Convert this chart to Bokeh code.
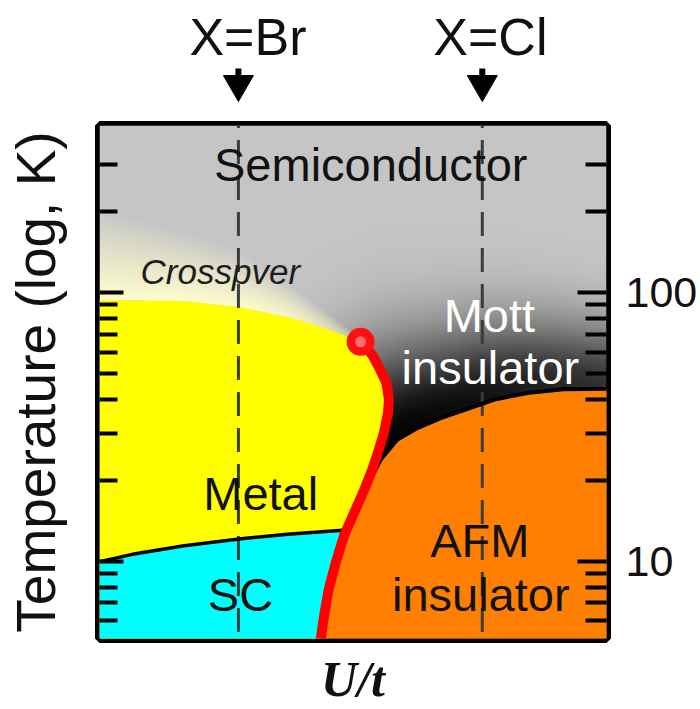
import numpy as np
from bokeh.plotting import figure
from bokeh.layouts import column
from bokeh.models import LogAxis, LinearAxis, FixedTicker, PrintfTickFormatter
from bokeh.core.properties import value
from bokeh.embed import file_html
from bokeh.resources import INLINE

# ---- phase boundaries: U/t in arbitrary units, temperature in K ----
# first-order Mott transition, from the critical end point downwards
mott_U = [5.15, 5.38, 5.54, 5.66, 5.71, 5.69, 5.61, 5.51, 5.38, 5.21, 5.02, 4.82, 4.66, 4.52, 4.44, 4.37, 4.35]
mott_T = [65.6, 58.6, 51.5, 46.0, 39.9, 35.6, 30.0, 26.0, 21.9, 18.2, 15.1, 12.4, 9.85, 7.84, 6.42, 5.25, 4.77]
# superconducting transition of the metal
sc_U = [0.0, 0.65, 1.67, 2.75, 3.71, 4.73, 4.87]
sc_T = [9.96, 10.6, 11.4, 12.1, 12.6, 13.0, 13.05]
# Neel temperature of the antiferromagnetic insulator
afm_U = [5.21, 5.28, 5.54, 5.87, 6.27, 6.73, 7.12, 7.79, 8.47, 9.15, 10.0, 10.2]
afm_T = [18.2, 19.0, 23.8, 28.3, 31.3, 34.1, 36.1, 40.0, 42.4, 43.7, 43.9, 44.0]
# upper edge of the coherent metal and of the crossover band above it
metal_U = [0.0, 1.66, 2.76, 3.71, 4.38, 4.99, 5.15]
metal_T = [93.8, 93.0, 88.3, 81.1, 74.4, 67.7, 65.6]
cross_U = [0.0, 1.66, 2.76, 3.71, 4.38, 4.99, 5.15]
cross_T = [206.0, 169.0, 143.0, 109.0, 88.3, 71.9, 65.6]
# critical end point
cep_U, cep_T = 5.15, 65.6

# the two salts kappa-(BEDT-TTF)2Cu[N(CN)2]X
salts = ["X=Br", "X=Cl"]
salt_U = [2.74, 7.55]

# temperature ticks
major_T = [10, 100]
minor_T = [6, 7, 8, 9, 20, 30, 40, 50, 60, 70, 80, 90, 200, 300]

# region names
region_text = ["Semiconductor", "Mott", "insulator", "Metal", "SC", "AFM", "insulator"]
region_U = [5.35, 7.69, 7.71, 3.18, 2.78, 7.50, 7.52]
region_T = [260.0, 71.3, 45.7, 15.5, 6.49, 10.3, 6.49]
region_color = ["#111111", "white", "white", "#111111", "#111111", "#111111", "#111111"]

# ---- geometry ----
W = 700
TOP_H = 115                      # strip above the diagram with the salt markers
MAIN_H = 594
B_LEFT, B_RIGHT, B_TOP, B_BOTTOM = 99, 94, 10, 70
U_MIN, U_MAX = 0.0, 10.0
T_MIN, T_MAX = 5.15, 419.4
FW, FH = W - B_LEFT - B_RIGHT, MAIN_H - B_TOP - B_BOTTOM
KX = FW / (U_MAX - U_MIN)                              # px per U/t unit
KY = FH / (np.log10(T_MAX) - np.log10(T_MIN))          # px per decade

GRAY = 198.0
FS = 47          # region label size, px
BASE = 0.36      # lift that puts the alphabetic baseline on the anchor
FONT = "Liberation Sans"

# ---- background shading: semiconductor gray, crossover glow, Mott darkening ----
nx, ny = FW, FH
gx = U_MIN + (np.arange(nx) + 0.5) / nx * (U_MAX - U_MIN)
gl = np.log10(T_MIN) + (np.arange(ny) + 0.5) / ny * (np.log10(T_MAX) - np.log10(T_MIN))
XX, LL = np.meshgrid(gx, gl)
rgb = np.full((ny, nx, 3), GRAY)

# crossover band between the metal and the semiconductor
lo = np.interp(gx, metal_U, np.log10(metal_T))[None, :]
hi = np.interp(gx, cross_U, np.log10(cross_T))[None, :]
span = np.maximum(hi - lo, 1e-6)
t = np.clip((LL - lo) / span, 0.0, 1.0) ** 1.15
band = (XX <= cep_U) & (LL >= lo)
pale = np.array([254.0, 252.0, 205.0])
for c in range(3):
    ch = rgb[..., c]
    ch[band] = (pale[c] * (1 - t) + GRAY * t)[band]

# darkening of the paramagnetic Mott insulator above the AFM boundary
PU, PV = XX * KX, LL * KY
cu = np.array(afm_U) * KX
cv = np.log10(afm_T) * KY
dist = np.full(PU.shape, 1e9)
for i in range(len(cu) - 1):
    ax, ay, bx, by = cu[i], cv[i], cu[i + 1], cv[i + 1]
    dx, dy = bx - ax, by - ay
    s = np.clip(((PU - ax) * dx + (PV - ay) * dy) / (dx * dx + dy * dy), 0, 1)
    dist = np.minimum(dist, np.hypot(PU - (ax + s * dx), PV - (ay + s * dy)))
amp = np.interp(XX, [5.5, 7.5, 10.0], [1.0, 0.92, 0.74])
sig = np.interp(XX, [5.5, 7.5, 10.0], [88.0, 76.0, 64.0])
dark = amp * np.exp(-(dist / sig) ** 2)
rgb *= (1 - dark)[..., None]

img = np.empty((ny, nx), dtype=np.uint32)
view = img.view(dtype=np.uint8).reshape((ny, nx, 4))
for c in range(3):
    view[..., c] = np.clip(rgb[..., c], 0, 255).astype(np.uint8)
view[..., 3] = 255

# ---- main diagram ----
p = figure(width=W, height=MAIN_H, x_range=(U_MIN, U_MAX), y_range=(T_MIN, T_MAX),
           y_axis_type="log", y_axis_location="right", x_axis_location=None,
           output_backend="svg", toolbar_location=None,
           min_border_left=B_LEFT, min_border_right=B_RIGHT,
           min_border_top=B_TOP, min_border_bottom=B_BOTTOM)
p.background_fill_color = "white"
p.border_fill_color = "white"
p.outline_line_color = "black"
p.outline_line_width = 9
p.xgrid.grid_line_color = None
p.ygrid.grid_line_color = None

p.image_rgba(image=[img], x=U_MIN, y=T_MIN, dw=U_MAX - U_MIN, dh=T_MAX - T_MIN)

# metal (yellow)
yel_x = metal_U + mott_U[1:] + [U_MIN]
yel_y = metal_T + mott_T[1:] + [mott_T[-1]]
p.patch(yel_x, yel_y, fill_color="#ffff00", line_color=None)

# superconductor (cyan)
below_sc = [i for i, T in enumerate(mott_T) if T < sc_T[-1]]
cy_x = sc_U + [mott_U[i] for i in below_sc] + [U_MIN]
cy_y = sc_T + [mott_T[i] for i in below_sc] + [mott_T[-1]]
p.patch(cy_x, cy_y, fill_color="#00ffff", line_color=None)

# antiferromagnetic insulator (orange)
below_j = [i for i, T in enumerate(mott_T) if T < afm_T[0]]
or_x = [mott_U[i] for i in reversed(below_j)] + afm_U + [afm_U[-1]]
or_y = [mott_T[i] for i in reversed(below_j)] + afm_T + [mott_T[-1]]
p.patch(or_x, or_y, fill_color="#ff8000", line_color=None)

# vertical cuts for the two salts
p.segment(x0=salt_U, y0=[4.0] * 2, x1=salt_U, y1=[500.0] * 2,
          line_color="#3c3c3c", line_width=3, line_dash="24 12")

# phase boundaries
p.line(sc_U, sc_T, line_color="black", line_width=3.5)
p.line(afm_U, afm_T, line_color="black", line_width=4)
p.line(mott_U, mott_T, line_color="#ff0000", line_width=10, line_cap="round", line_join="round")
p.scatter([cep_U], [cep_T], size=28, fill_color="#ff1010", line_color=None)
p.scatter([cep_U], [cep_T], size=11, fill_color="#ff6f6f", line_color=None)

# region names
p.text(x=region_U, y=region_T, text=region_text, text_color=region_color,
       text_font=value(FONT), text_font_size=f"{FS}px",
       text_align="center", text_baseline="alphabetic", y_offset=-BASE * FS)
p.text(x=[0.81], y=[107.6], text=["Crosspver"], text_color="#1e1e1e",
       text_font=value(FONT), text_font_size="35px", text_font_style="italic",
       text_align="left", text_baseline="alphabetic", y_offset=-BASE * 35)

# temperature axes, ticks pointing inwards on both sides
ticker = FixedTicker(ticks=major_T, minor_ticks=minor_T)
right = p.yaxis[0]
left = LogAxis(ticker=ticker)
p.add_layout(left, "left")
for ax, maj, mnr in ((right, 29, 21), (left, 24, 18)):
    ax.ticker = ticker
    ax.axis_line_color = None
    ax.major_tick_in = maj
    ax.major_tick_out = 0
    ax.minor_tick_in = mnr
    ax.minor_tick_out = 0
    ax.major_tick_line_width = 4
    ax.minor_tick_line_width = 4
    ax.major_tick_line_color = "black"
    ax.minor_tick_line_color = "black"
right.formatter = PrintfTickFormatter(format="%d")
right.major_label_text_font = FONT
right.major_label_text_font_size = "43px"
right.major_label_text_color = "#111111"
right.major_label_standoff = 19

left.major_label_overrides = {10: "", 100: ""}
left.major_label_text_font_size = "10px"
left.major_label_standoff = 0
left.axis_label = "Temperature (log, K)"
left.axis_label_text_font = FONT
left.axis_label_text_font_size = "55px"
left.axis_label_text_font_style = "normal"
left.axis_label_text_color = "#111111"
left.axis_label_standoff = 33

bottom = LinearAxis(ticker=FixedTicker(ticks=[]))
bottom.axis_line_color = None
bottom.major_tick_out = 0
bottom.minor_tick_out = 0
bottom.major_label_standoff = 0
bottom.axis_label = "U/t"
bottom.axis_label_text_font = "Liberation Serif"
bottom.axis_label_text_font_style = "bold italic"
bottom.axis_label_text_font_size = "50px"
bottom.axis_label_text_color = "#111111"
bottom.axis_label_standoff = 12
p.add_layout(bottom, "below")

# ---- strip above the diagram: salt names with arrows ----
top = figure(width=W, height=TOP_H, x_range=p.x_range, y_range=(0, TOP_H),
             x_axis_location=None, y_axis_location=None,
             output_backend="svg", toolbar_location=None,
             min_border_left=B_LEFT, min_border_right=B_RIGHT,
             min_border_top=0, min_border_bottom=0)
top.outline_line_color = None
top.background_fill_color = "white"
top.border_fill_color = "white"
top.xgrid.grid_line_color = None
top.ygrid.grid_line_color = None
top.segment(x0=salt_U, y0=[47.0] * 2, x1=salt_U, y1=[33.0] * 2,
            line_color="black", line_width=6)
top.scatter(salt_U, [31.3] * 2, marker="inverted_triangle", size=30,
            fill_color="black", line_color="black")
top.text(x=salt_U, y=[60.0] * 2, text=salts, text_color="#111111",
         text_font=value(FONT), text_font_size="52px",
         text_align="left", text_baseline="alphabetic",
         x_offset=-49, y_offset=-BASE * 52)

layout = column(top, p, spacing=0)
open("out.html", "w").write(file_html(layout, INLINE))
